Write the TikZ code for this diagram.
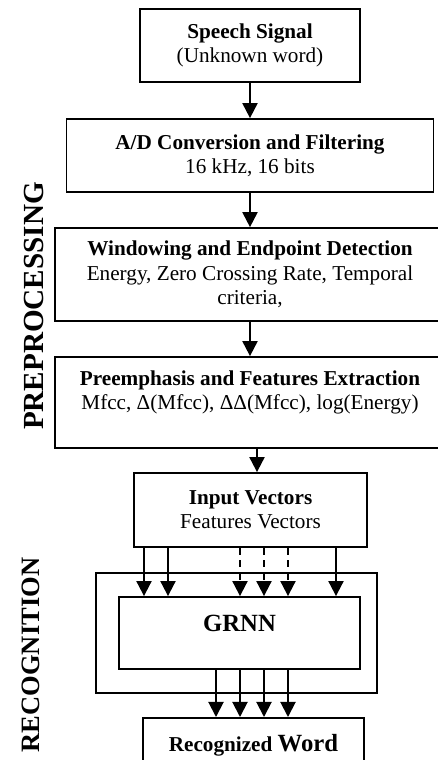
\documentclass[tikz,border=0pt]{standalone}
\usepackage{fontspec}
\setmainfont{Liberation Serif}
\usepackage{tikz}
\usetikzlibrary{arrows.meta, positioning, calc}

\begin{document}
\begin{tikzpicture}[
    x=0.566pt, y=-0.566pt,
    stage/.style={rectangle, draw=black, line width=1pt, align=center, inner sep=0pt, font=\fontsize{12}{13.8}\selectfont},
    phase/.style={rotate=90, inner sep=0pt, font=\bfseries\fontsize{16.5}{16.5}\selectfont},
    arrow/.style={line width=1.1pt, -{Triangle[length=8.5pt, width=8.5pt]}, draw=black},
    dasharrow/.style={arrow, dash pattern=on 4pt off 3pt}
]
    \useasboundingbox (0,0) rectangle (438,760);

    % Nodes
    \node (sig) [stage, minimum width=124.5pt, minimum height=41.3pt] at (250,45.5) {\textbf{Speech Signal}\\(Unknown word)};
    \node (adc) [stage, minimum width=207.7pt, minimum height=41.3pt] at (250,155.5) {\textbf{A/D Conversion and Filtering}\\16 kHz, 16 bits};
    \node (win) [stage, minimum width=220.7pt, minimum height=52.6pt] at (250,274.5) {\textbf{Windowing and Endpoint Detection}\\Energy, Zero Crossing Rate, Temporal\\criteria,};
    \node (pre) [stage, minimum width=220.7pt, minimum height=51.5pt] at (250,402.5) {\textbf{Preemphasis and Features Extraction}\\Mfcc, Δ(Mfcc), ΔΔ(Mfcc), log(Energy)\\\mbox{}};
    \node (inp) [stage, minimum width=131.9pt, minimum height=41.9pt] at (250.5,510) {\textbf{Input Vectors}\\Features Vectors};
    \node (net) [stage, minimum width=159pt, minimum height=67.9pt] at (236.5,633) {};
    \node (grnn) [stage, minimum width=136.4pt, minimum height=40.8pt, text depth=10.5pt, font=\bfseries\fontsize{14}{14}\selectfont] at (239.5,633) {GRNN};
    \node (word) [stage, anchor=north, minimum width=125.1pt, minimum height=30.6pt] at (253.5,717) {\textbf{Recognized} {\fontsize{14}{14}\selectfont\textbf{Word}}};

    \node (prep) [phase] at (33.5,306) {PREPROCESSING};
    \node (reco) [phase, font=\bfseries\fontsize{15}{15}\selectfont] at (31,655) {RECOGNITION};

    % Flows
    \draw [arrow] (sig) -- (adc);
    \draw [arrow] (adc) -- (win);
    \draw [arrow] (win) -- (pre);
    \draw [arrow] (pre.south -| 257,0) -- (inp.north -| 257,0);
    \foreach \x in {144,168,336}
        \draw [arrow] (inp.south -| \x,0) -- (grnn.north -| \x,0);
    \foreach \x in {240,264,288}
        \draw [dasharrow] (inp.south -| \x,0) -- (grnn.north -| \x,0);
    \foreach \x in {216,240,264,288}
        \draw [arrow] (grnn.south -| \x,0) -- (word.north -| \x,0);

\end{tikzpicture}
\end{document}
